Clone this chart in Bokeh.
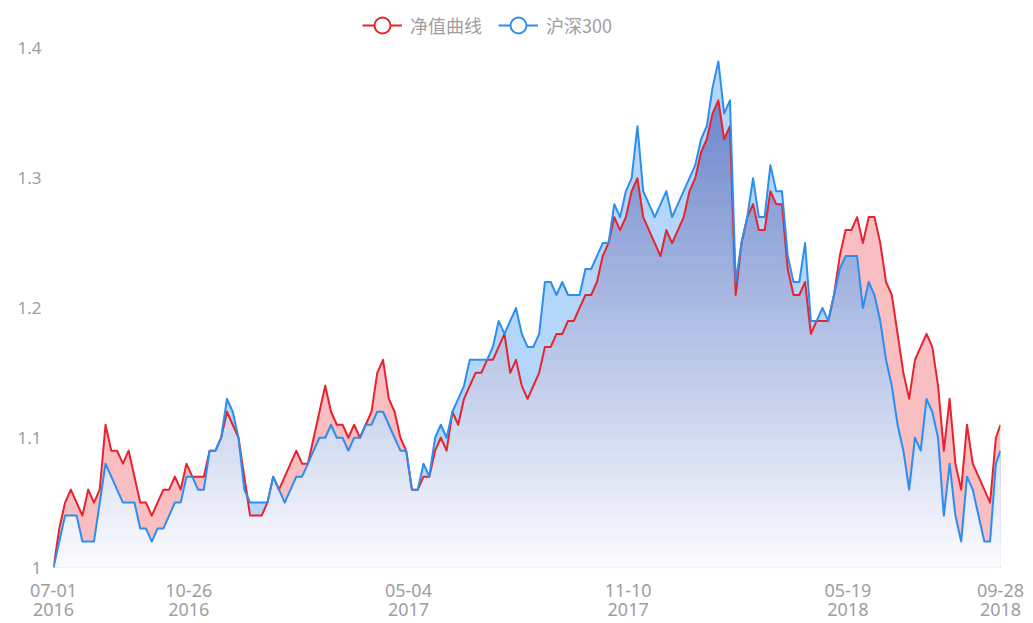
import numpy as np
import pandas as pd
from bokeh.plotting import figure
from bokeh.models import Range1d, FixedTicker, Legend, LegendItem, ColumnDataSource, CustomJSTickFormatter
from bokeh.embed import file_html
from bokeh.resources import INLINE

# ---------------- data ----------------
start = pd.Timestamp("2016-07-01")
dates = list(pd.date_range(start, periods=164, freq="5D")) + [pd.Timestamp("2018-09-28")]

red_nav = [
    1.00, 1.03, 1.05, 1.06, 1.05, 1.04, 1.06, 1.05, 1.06, 1.11,
    1.09, 1.09, 1.08, 1.09, 1.07, 1.05, 1.05, 1.04, 1.05, 1.06,
    1.06, 1.07, 1.06, 1.08, 1.07, 1.07, 1.07, 1.09, 1.09, 1.10,
    1.12, 1.11, 1.10, 1.07, 1.04, 1.04, 1.04, 1.05, 1.07, 1.06,
    1.07, 1.08, 1.09, 1.08, 1.08, 1.10, 1.12, 1.14, 1.12, 1.11,
    1.11, 1.10, 1.11, 1.10, 1.11, 1.12, 1.15, 1.16, 1.13, 1.12,
    1.10, 1.09, 1.06, 1.06, 1.07, 1.07, 1.09, 1.10, 1.09, 1.12,
    1.11, 1.13, 1.14, 1.15, 1.15, 1.16, 1.16, 1.17, 1.18, 1.15,
    1.16, 1.14, 1.13, 1.14, 1.15, 1.17, 1.17, 1.18, 1.18, 1.19,
    1.19, 1.20, 1.21, 1.21, 1.22, 1.24, 1.25, 1.27, 1.26, 1.27,
    1.29, 1.30, 1.27, 1.26, 1.25, 1.24, 1.26, 1.25, 1.26, 1.27,
    1.29, 1.30, 1.32, 1.33, 1.35, 1.36, 1.33, 1.34, 1.21, 1.25,
    1.27, 1.28, 1.26, 1.26, 1.29, 1.28, 1.28, 1.23, 1.21, 1.21,
    1.22, 1.18, 1.19, 1.19, 1.19, 1.21, 1.24, 1.26, 1.26, 1.27,
    1.25, 1.27, 1.27, 1.25, 1.22, 1.21, 1.18, 1.15, 1.13, 1.16,
    1.17, 1.18, 1.17, 1.14, 1.09, 1.13, 1.08, 1.06, 1.11, 1.08,
    1.07, 1.06, 1.05, 1.10, 1.11,
]

hs300 = [
    1.00, 1.02, 1.04, 1.04, 1.04, 1.02, 1.02, 1.02, 1.05, 1.08,
    1.07, 1.06, 1.05, 1.05, 1.05, 1.03, 1.03, 1.02, 1.03, 1.03,
    1.04, 1.05, 1.05, 1.07, 1.07, 1.06, 1.06, 1.09, 1.09, 1.10,
    1.13, 1.12, 1.10, 1.06, 1.05, 1.05, 1.05, 1.05, 1.07, 1.06,
    1.05, 1.06, 1.07, 1.07, 1.08, 1.09, 1.10, 1.10, 1.11, 1.10,
    1.10, 1.09, 1.10, 1.10, 1.11, 1.11, 1.12, 1.12, 1.11, 1.10,
    1.09, 1.09, 1.06, 1.06, 1.08, 1.07, 1.10, 1.11, 1.10, 1.12,
    1.13, 1.14, 1.16, 1.16, 1.16, 1.16, 1.17, 1.19, 1.18, 1.19,
    1.20, 1.18, 1.17, 1.17, 1.18, 1.22, 1.22, 1.21, 1.22, 1.21,
    1.21, 1.21, 1.23, 1.23, 1.24, 1.25, 1.25, 1.28, 1.27, 1.29,
    1.30, 1.34, 1.29, 1.28, 1.27, 1.28, 1.29, 1.27, 1.28, 1.29,
    1.30, 1.31, 1.33, 1.34, 1.37, 1.39, 1.35, 1.36, 1.22, 1.25,
    1.27, 1.30, 1.27, 1.27, 1.31, 1.29, 1.29, 1.24, 1.22, 1.22,
    1.25, 1.19, 1.19, 1.20, 1.19, 1.21, 1.23, 1.24, 1.24, 1.24,
    1.20, 1.22, 1.21, 1.19, 1.16, 1.14, 1.11, 1.09, 1.06, 1.10,
    1.09, 1.13, 1.12, 1.10, 1.04, 1.08, 1.04, 1.02, 1.07, 1.06,
    1.04, 1.02, 1.02, 1.08, 1.09,
]

tick_dates = ["2016-07-01", "2016-10-26", "2017-05-04", "2017-11-10", "2018-05-19", "2018-09-28"]
y_ticks = [1.0, 1.1, 1.2, 1.3, 1.4]
series_names = ["净值曲线", "沪深300"]

# ---------------- derived ----------------
x = np.array([(d - start).days for d in dates], dtype=float)
red = np.array(red_nav)
blue = np.array(hs300)
lo = np.minimum(red, blue)
hi = np.maximum(red, blue)
tick_x = [int((pd.Timestamp(t) - start).days) for t in tick_dates]
tick_labels = {tx: pd.Timestamp(t).strftime("%m-%d") + "\n" + pd.Timestamp(t).strftime("%Y")
               for tx, t in zip(tick_x, tick_dates)}

RED = "#e8232e"
BLUE = "#2b8ef0"

p = figure(width=1033, height=623, output_backend="svg", toolbar_location=None,
           x_range=Range1d(0, tick_x[-1]), y_range=Range1d(1.0, 1.4 + 48 / 1300),
           min_border_left=53, min_border_right=33, min_border_top=0, min_border_bottom=55)
p.outline_line_color = None
p.grid.visible = False
p.background_fill_color = "white"
p.border_fill_color = "white"

# gradient fill beneath both curves (drawn as stacked bands)
top_c = np.array([92, 122, 198])
bot_c = np.array([252, 252, 255])
levels = np.round(np.arange(1.40, 1.0, -0.01), 2)
base = np.full_like(x, 1.0)
for b in levels:
    t = (b - 0.005 - 1.0) / 0.4
    c = (bot_c + (top_c - bot_c) * t).round().astype(int)
    col = "#%02x%02x%02x" % tuple(c)
    p.varea(x=x, y1=base, y2=np.minimum(lo, b), fill_color=col, fill_alpha=1.0)

# differences
p.varea(x=x, y1=blue, y2=hi, fill_color="#f27d86", fill_alpha=0.5)
p.varea(x=x, y1=red, y2=hi, fill_color="#74b4f6", fill_alpha=0.55)

rl = p.line(x, red, line_color=RED, line_width=2, line_join="round")
bl = p.line(x, blue, line_color=BLUE, line_width=2, line_join="round")

offscreen = ColumnDataSource(dict(x=[-1000.0], y=[0.0]))
rs = p.scatter("x", "y", source=offscreen, marker="circle", size=15, fill_color="white",
               line_color=RED, line_width=2)
bs = p.scatter("x", "y", source=offscreen, marker="circle", size=15, fill_color="white",
               line_color=BLUE, line_width=2)

legend = Legend(items=[LegendItem(label=series_names[0], renderers=[rl, rs], index=0),
                       LegendItem(label=series_names[1], renderers=[bl, bs], index=0)],
                orientation="horizontal", location=(309, 522),
                border_line_color=None, background_fill_alpha=0, padding=0, margin=0,
                glyph_width=40, glyph_height=40, label_standoff=8, spacing=16,
                label_height=40,
                label_text_font="Noto Sans CJK SC", label_text_font_size="18px",
                label_text_color="#9e9e9e")
p.add_layout(legend)

# axes
for ax in (p.xaxis[0], p.yaxis[0]):
    ax.axis_line_color = None
    ax.major_tick_line_color = None
    ax.minor_tick_line_color = None
    ax.major_tick_out = 0
    ax.major_tick_in = 0
    ax.major_label_text_color = "#9e9e9e"
    ax.major_label_text_font = "Noto Sans"

p.yaxis.ticker = FixedTicker(ticks=y_ticks)
p.yaxis.formatter = CustomJSTickFormatter(code="return tick.toFixed(1).replace(/\\.0$/, '')")
p.yaxis.major_label_text_font_size = "17px"
p.yaxis.major_label_standoff = 12

p.xaxis.ticker = FixedTicker(ticks=tick_x)
p.xaxis.major_label_overrides = tick_labels
p.xaxis.major_label_text_font_size = "18px"
p.xaxis.major_label_text_line_height = 0.8
p.xaxis.major_label_standoff = 10

open("out.html", "w").write(file_html(p, INLINE))
